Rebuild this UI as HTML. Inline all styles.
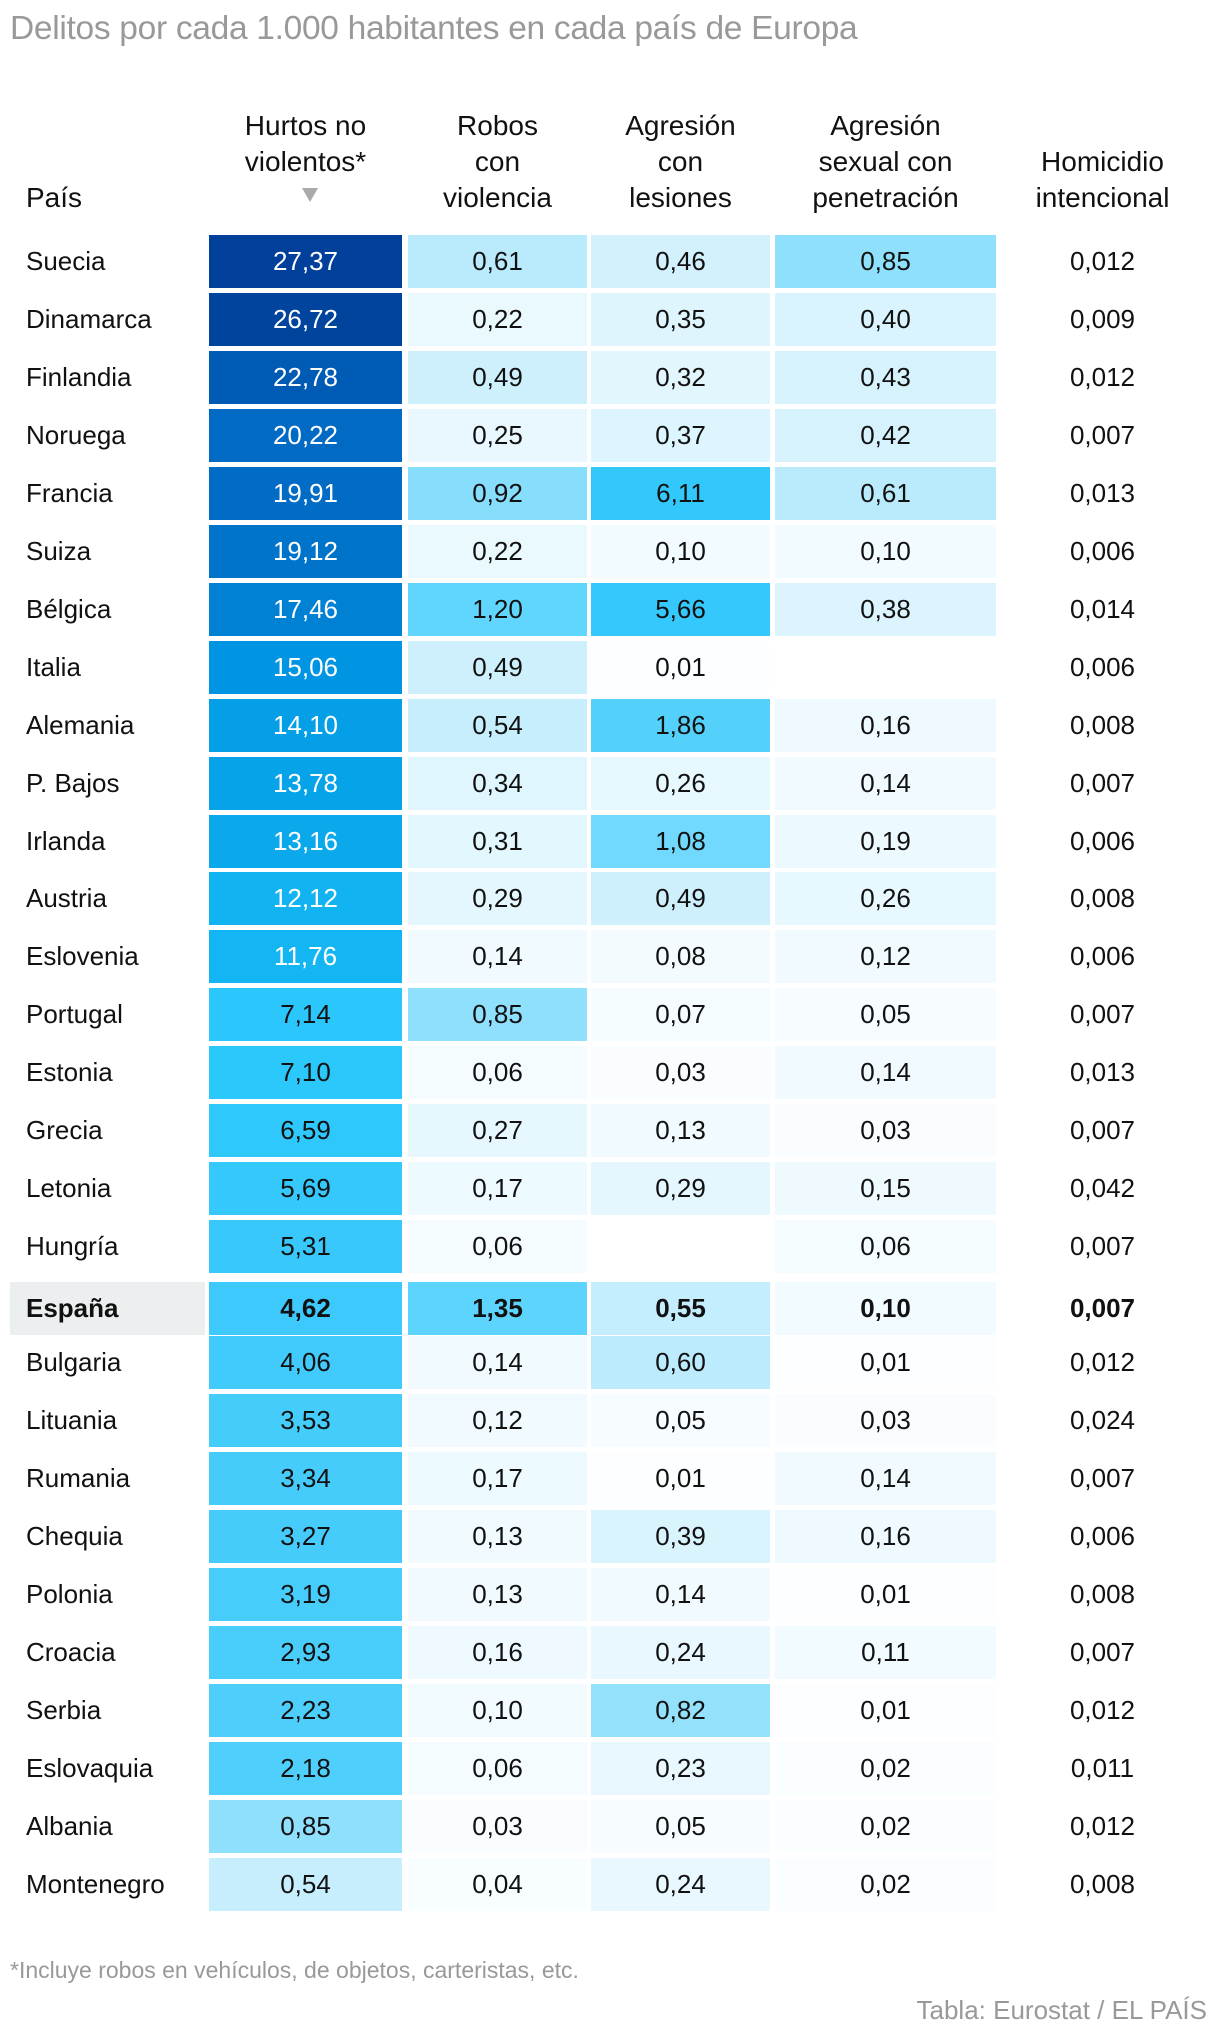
<!DOCTYPE html>
<html><head><meta charset="utf-8">
<style>
body{margin:0;width:1220px;height:2040px;background:#fff;font-family:"Liberation Sans",sans-serif;position:relative;overflow:hidden}
.a{position:absolute}
.t{color:#999;font-size:33.5px;left:10px;top:10px;letter-spacing:-0.3px}
.h{font-size:28px;color:#111;text-align:center;line-height:36px}
.cell{position:absolute;height:53px;line-height:53px;text-align:center;font-size:26px;color:#111}
.lab{position:absolute;height:53px;line-height:53px;font-size:26px;color:#111;padding-left:16px;box-sizing:border-box}
</style></head><body>
<div class="a t">Delitos por cada 1.000 habitantes en cada país de Europa</div>
<div class="a h" style="left:26px;top:180px;text-align:left">País</div>
<div class="a h" style="left:209px;width:193px;top:108px">Hurtos no<br>violentos*</div>
<div class="a" style="left:302px;top:188px;width:0;height:0;border-left:8px solid transparent;border-right:8px solid transparent;border-top:14px solid #aaa"></div>
<div class="a h" style="left:408px;width:179px;top:108px">Robos<br>con<br>violencia</div>
<div class="a h" style="left:591px;width:179px;top:108px">Agresión<br>con<br>lesiones</div>
<div class="a h" style="left:775px;width:221px;top:108px">Agresión<br>sexual con<br>penetración</div>
<div class="a h" style="left:1000px;width:205px;top:144px">Homicidio<br>intencional</div>
<div id="tbl"></div>
<div class="a" style="left:10px;top:1957px;font-size:23px;color:#999">*Incluye robos en vehículos, de objetos, carteristas, etc.</div>
<div class="a" style="right:13px;top:1995px;font-size:26px;color:#999">Tabla: Eurostat / EL PAÍS</div>
<script>
const countries=["Suecia","Dinamarca","Finlandia","Noruega","Francia","Suiza","Bélgica","Italia","Alemania","P. Bajos","Irlanda","Austria","Eslovenia","Portugal","Estonia","Grecia","Letonia","Hungría","España","Bulgaria","Lituania","Rumania","Chequia","Polonia","Croacia","Serbia","Eslovaquia","Albania","Montenegro"];
const hurtos=[27.37,26.72,22.78,20.22,19.91,19.12,17.46,15.06,14.10,13.78,13.16,12.12,11.76,7.14,7.10,6.59,5.69,5.31,4.62,4.06,3.53,3.34,3.27,3.19,2.93,2.23,2.18,0.85,0.54];
const robos=[0.61,0.22,0.49,0.25,0.92,0.22,1.20,0.49,0.54,0.34,0.31,0.29,0.14,0.85,0.06,0.27,0.17,0.06,1.35,0.14,0.12,0.17,0.13,0.13,0.16,0.10,0.06,0.03,0.04];
const lesiones=[0.46,0.35,0.32,0.37,6.11,0.10,5.66,0.01,1.86,0.26,1.08,0.49,0.08,0.07,0.03,0.13,0.29,null,0.55,0.60,0.05,0.01,0.39,0.14,0.24,0.82,0.23,0.05,0.24];
const sexual=[0.85,0.40,0.43,0.42,0.61,0.10,0.38,null,0.16,0.14,0.19,0.26,0.12,0.05,0.14,0.03,0.15,0.06,0.10,0.01,0.03,0.14,0.16,0.01,0.11,0.01,0.02,0.02,0.02];
const homicidio=[0.012,0.009,0.012,0.007,0.013,0.006,0.014,0.006,0.008,0.007,0.006,0.008,0.006,0.007,0.013,0.007,0.042,0.007,0.007,0.012,0.024,0.007,0.006,0.008,0.007,0.012,0.011,0.012,0.008];
const stops=[[0,[255,255,255]],[0.05,[246,252,255]],[0.3,[228,247,254]],[0.5,[205,240,253]],[0.85,[143,224,252]],[1.2,[96,213,253]],[2,[80,208,251]],[3,[72,205,251]],[5,[58,200,252]],[7,[44,200,252]],[12,[18,181,242]],[15,[0,150,226]],[20,[0,107,197]],[27.5,[0,63,154]]];
function color(v){if(v==null)return "#fff";for(let i=1;i<stops.length;i++){if(v<=stops[i][0]){const a=stops[i-1],b=stops[i],t=(v-a[0])/(b[0]-a[0]);const c=a[1].map((x,k)=>Math.round(x+(b[1][k]-x)*t));return `rgb(${c})`;}}return "rgb(0,63,154)";}
const cols=[{d:hurtos,x:209,w:193,f:2,n:"hurtos"},{d:robos,x:408,w:179,f:2,n:"robos"},{d:lesiones,x:591,w:179,f:2,n:"lesiones"},{d:sexual,x:775,w:221,f:2,n:"sexual"},{d:homicidio,x:1000,w:205,f:3,n:"homicidio"}];
const top0=235,pitch=57.95;
const tbl=document.getElementById('tbl');
countries.forEach((c,i)=>{
 const es=c==="España";
 const y=top0+i*pitch+(es?4:0);
 const l=document.createElement('div');l.className='lab';
 
 
 l.style.cssText=`left:10px;top:${y}px;width:195px;${es?'background:#eceff0;font-weight:bold':''}`;
 l.textContent=c;tbl.appendChild(l);
 cols.forEach(col=>{
  const v=col.d[i];const e=document.createElement('div');e.className='cell';
  
  
  const bg=col.n==="homicidio"?"#fff":color(v);
  e.style.cssText=`left:${col.x}px;top:${y}px;width:${col.w}px;background:${bg};${(v!=null&&v>=11)?'color:#fff;':''}${es?'font-weight:bold':''}`;
  e.textContent=v==null?"":v.toFixed(col.f).replace('.',',');tbl.appendChild(e);
 });
});
</script>
</body></html>
